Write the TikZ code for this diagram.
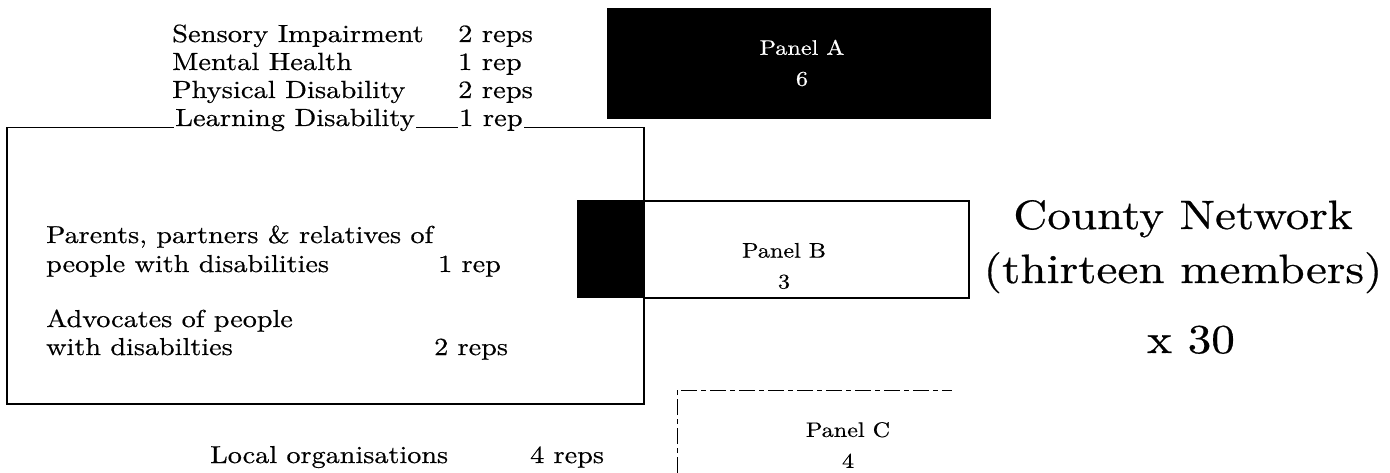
\documentclass[tikz,border=0pt]{standalone}
\usepackage{fontspec}
\setmainfont{lmroman10-regular.otf}[FakeStretch=1.15,FakeBold=0.5]
\begin{document}
\tikzset{
  lst/.style={anchor=base west, inner sep=0pt, font=\fontsize{24.8}{28}\selectfont},
  inr/.style={anchor=base west, inner sep=0pt, font=\fontsize{24.5}{28}\selectfont},
  ptxt/.style={align=center, inner sep=0pt, font=\fontsize{21}{31}\selectfont},
  big/.style={anchor=base, inner sep=0pt, font=\fontsize{41}{46}\selectfont},
  blackbox/.style={fill=black, draw=black, inner sep=0pt, anchor=north west},
  whitebox/.style={draw=black, line width=1.8pt, inner sep=0pt, anchor=north west},
  grpbox/.style={draw=black, line width=1.5pt, inner sep=0pt, anchor=north west},
  openbox/.style={draw=black, line width=1pt, dash pattern=on 16pt off 4pt on 5pt off 4pt}
}
\begin{tikzpicture}[x=1pt,y=-1pt]
\useasboundingbox (0,0) rectangle (1390,473);
% Panel A
\node[blackbox, minimum width=383pt, minimum height=110pt] (pa) at (607,8) {};
\node[ptxt, text=white] (pat) at (802,63) {Panel A\\6};
% group box
\node[grpbox, minimum width=637pt, minimum height=276pt] (grp) at (6,127) {};
% top list
\node[lst] (l1) at (172,42) {Sensory Impairment};
\node[lst] (r1) at (458,42) {2 reps};
\node[lst] (l2) at (172,70) {Mental Health};
\node[lst] (r2) at (458,70) {1 rep};
\node[lst] (l3) at (172,98) {Physical Disability};
\node[lst] (r3) at (458,98) {2 reps};
\node[lst, fill=white, inner xsep=1pt] (l4) at (174,126) {Learning Disability};
\node[lst, fill=white, inner xsep=1pt] (r4) at (458,126) {1 rep};
% Panel B
\node[blackbox, minimum width=66pt, minimum height=97pt] (pbk) at (577,200) {};
\node[whitebox, minimum width=325pt, minimum height=97pt] (pb) at (643,200) {};
\node[ptxt] (pbt) at (784,266) {Panel B\\3};
% inner texts
\node[inr] (t1) at (46,243) {Parents, partners \& relatives of};
\node[inr] (t2) at (46,272) {people with disabilities};
\node[inr] (t2r) at (438,272) {1 rep};
\node[inr] (t3) at (46,327) {Advocates of people};
\node[inr] (t4) at (46,355) {with disabilties};
\node[inr] (t4r) at (434,355) {2 reps};
% local organisations
\node[inr] (t5) at (210,463) {Local organisations};
\node[inr] (t5r) at (530,463) {4 reps};
% Panel C (open at the bottom)
\coordinate (pcbl) at (677,473);
\coordinate (pctl) at (677,390);
\coordinate (pctr) at (952,390);
\draw[openbox] (pcbl) -- (pctl) -- (pctr);
\node[ptxt] (pct) at (848,445) {Panel C\\4};
% County network
\node[big] (c1) at (1183,229) {County Network};
\node[big] (c2) at (1183,283) {(thirteen members)};
\node[big] (c3) at (1191,353) {x 30};
\end{tikzpicture}
\end{document}
